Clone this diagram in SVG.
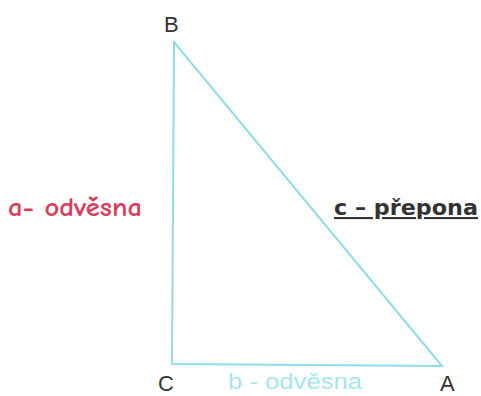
<svg xmlns="http://www.w3.org/2000/svg" width="481" height="396" viewBox="0 0 481 396">
<style>
.vl{font-family:"Liberation Sans",Arial,sans-serif;font-size:22px;fill:#333;}
.edge{stroke:#8fdde6;stroke-width:2;fill:none;}
</style>
<rect width="481" height="396" fill="#fff"/>
<g id="connectors">
<polygon class="edge" points="174,42 172,364 442,366"/>
</g>
<g id="B"><text class="vl" x="164" y="32">B</text></g>
<g id="C"><text class="vl" x="158" y="391">C</text></g>
<g id="A"><text class="vl" x="440" y="391">A</text></g>
<g id="label-a"><text x="8" y="216" font-family="'Comic Neue','DejaVu Sans',sans-serif" font-size="26" font-weight="bold" fill="#d6405e" textLength="134" lengthAdjust="spacingAndGlyphs">a- odvěsna</text></g>
<g id="label-c"><text x="334" y="215" font-family="'DejaVu Sans',sans-serif" font-weight="bold" font-size="21" fill="#333" text-decoration="underline" textLength="144" lengthAdjust="spacingAndGlyphs">c – přepona</text></g>
<g id="label-b"><text x="228" y="389" font-family="'Liberation Sans',Arial,sans-serif" font-size="22" fill="#a8e6ee" textLength="134" lengthAdjust="spacingAndGlyphs">b - odvěsna</text></g>
</svg>
